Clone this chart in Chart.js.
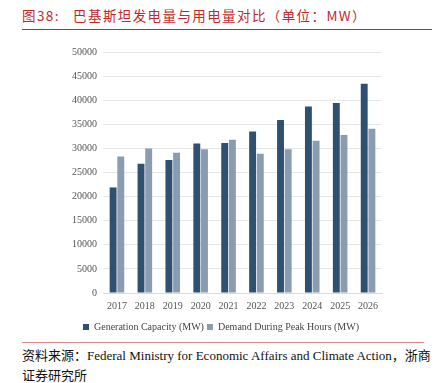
<!DOCTYPE html>
<html>
<head>
<meta charset="utf-8">
<script src="https://cdn.jsdelivr.net/npm/chart.js@4"></script>
<style>
  body { margin: 0; background: #fff; width: 436px; height: 383px; position: relative; overflow: hidden; }
  #title { position: absolute; left: 22px; top: 5px; font: 13.5px "Noto Sans CJK SC", serif; color: #c0282d; letter-spacing: 1.4px; white-space: nowrap; }
  #titleLine { position: absolute; left: 22px; top: 29px; width: 410px; height: 1px; background: #c0282d; }
  #wrap { position: absolute; left: 0; top: 40px; width: 436px; height: 302px; }
  #footLine { position: absolute; left: 22px; top: 342px; width: 402px; height: 1px; background: #d88a8a; }
  #foot { position: absolute; left: 22px; top: 346px; width: 410px; font: 13px "Liberation Serif", "Noto Sans CJK SC", serif; color: #111; line-height: 20px; }
</style>
</head>
<body>
<div id="title">图38:&nbsp;&nbsp; 巴基斯坦发电量与用电量对比（单位：MW）</div>
<div id="titleLine"></div>
<div id="wrap"><canvas id="barChart"></canvas></div>
<div id="footLine"></div>
<div id="foot">资料来源：Federal Ministry for Economic Affairs and Climate Action，浙商<br>证券研究所</div>
<script>
const years = ['2017', '2018', '2019', '2020', '2021', '2022', '2023', '2024', '2025', '2026'];
const generation = [21900, 26800, 27600, 31000, 31100, 33500, 35900, 38700, 39400, 43400];
const demand = [28300, 30000, 29100, 29800, 31800, 28900, 29800, 31600, 32800, 34100];

const serif = '"Liberation Serif", "Times New Roman", serif';

new Chart(document.getElementById('barChart'), {
    type: 'bar',
    data: {
        labels: years,
        datasets: [
            { label: 'Generation Capacity (MW)', data: generation, backgroundColor: '#2e5172' },
            { label: 'Demand During Peak Hours (MW)', data: demand, backgroundColor: '#8b9bb0' }
        ]
    },
    options: {
        responsive: true,
        maintainAspectRatio: false,
        animation: false,
        layout: { padding: { left: 60, right: 54, top: 4, bottom: 0 } },
        datasets: { bar: { categoryPercentage: 0.55, barPercentage: 0.9 } },
        plugins: {
            tooltip: { enabled: false },
            legend: {
                position: 'bottom',
                labels: { boxWidth: 6, boxHeight: 6, padding: 3, color: '#444', font: { family: serif, size: 10 } }
            }
        },
        scales: {
            x: {
                grid: { display: false, drawTicks: false },
                border: { color: '#d9d9d9' },
                ticks: { color: '#555', padding: 7, font: { family: serif, size: 10 } }
            },
            y: {
                min: 0, max: 50000,
                afterFit: axis => { axis.width = 43; },
                ticks: { stepSize: 5000, color: '#555', padding: 6, font: { family: serif, size: 10 }, callback: v => String(v) },
                grid: { color: '#e6e6e6', drawTicks: false },
                border: { display: false }
            }
        }
    }
});
</script>
</body>
</html>
